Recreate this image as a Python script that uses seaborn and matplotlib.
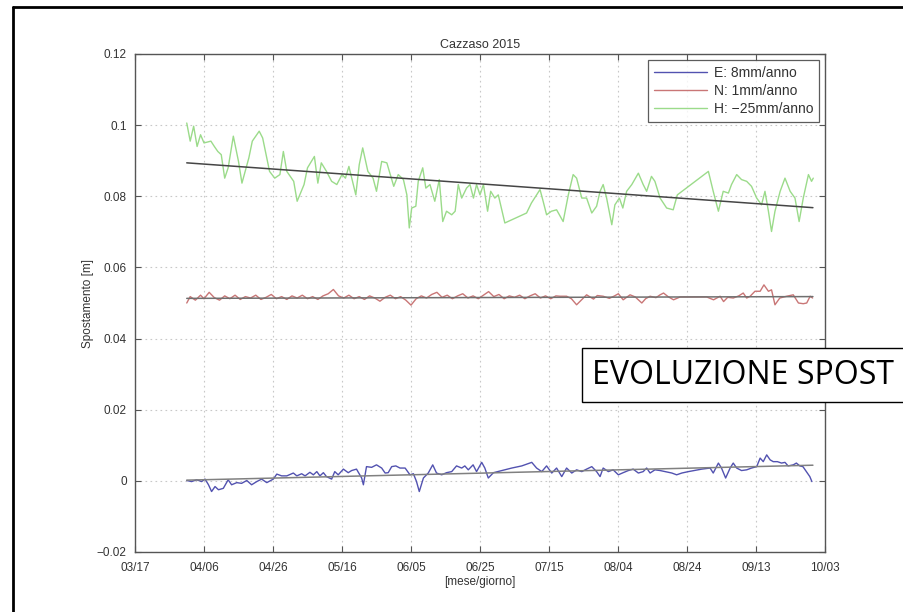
import matplotlib
matplotlib.use("Agg")
import matplotlib.pyplot as plt
from matplotlib.lines import Line2D
import numpy as np
import pandas as pd
import seaborn as sns

# ---------------- data ----------------
base_date = "2015-03-17"
tick_offsets = [0, 20, 40, 60, 80, 100, 120, 140, 160, 180, 200]
tick_labels = ["03/17", "04/06", "04/26", "05/16", "06/05", "06/25",
               "07/15", "08/04", "08/24", "09/13", "10/03"]
y_ticks = [-0.02, 0, 0.02, 0.04, 0.06, 0.08, 0.1, 0.12]
y_tick_labels = ["\u22120.02", "0", "0.02", "0.04", "0.06", "0.08", "0.1", "0.12"]

series_labels = ["E: 8mm/anno", "N: 1mm/anno", "H: \u221225mm/anno"]

E_days = [15, 16.4, 17.9, 19.3, 20.3, 21.3, 22.2, 23.2, 24.2, 25.6,
          27, 28, 29.5, 30.9, 32.4, 33.8, 35.3, 36.7, 38.2, 40.1,
          41.1, 42.5, 44, 45.9, 46.9, 48.3, 49.3, 50.7, 51.7, 52.7,
          53.6, 54.6, 55.5, 57, 57.9, 58.9, 60.4, 61.8, 62.8, 64.2,
          65.7, 66.2, 67.1, 68.6, 70, 71.5, 72.5, 73.4, 74.4, 75.6,
          76.8, 78.3, 79.7, 80.7, 81.6, 82.4, 83.6, 85, 86.3, 87.4,
          88.9, 90.3, 91.8, 93.2, 94.7, 95.6, 96.6, 98, 99, 100.5,
          101.4, 102.4, 103.9,
          106.3, 109.2, 112.1, 115, 116.4, 117.9, 119.3, 120.8, 122.2, 123.7,
          125.1, 126.6, 128, 129.5, 130.9, 132.4, 133.8, 134.8, 135.7, 137.2,
          138.6, 140.1, 141.5, 143, 144.4, 145.9, 147.3, 148.3, 149.3, 150.7,
          152.2, 153.6, 155.6, 157, 158.5, 160.4, 164.3, 166.7, 167.6, 169.1,
          170, 171.2, 172.5, 173.4, 174.4, 175.8, 177.3, 178.7, 180.2, 181.2,
          182.1, 183.1, 184.1, 185, 186.2, 187.4, 188.4, 189.3, 190.8, 191.7,
          192.7, 193.6, 194.6, 195.6, 196.2]
E_vals = [0.0001, -0.0002, 0.0003, -0.0002, 0.0005, -0.0011, -0.0030, -0.0016, -0.0025, -0.0021,
          0.0003, -0.0011, -0.0005, -0.0007, 0.0001, -0.0011, -0.0002, 0.0005, -0.0005, 0.0005,
          0.0019, 0.0014, 0.0014, 0.0022, 0.0014, 0.0020, 0.0014, 0.0024, 0.0017, 0.0026,
          0.0014, 0.0023, 0.0012, 0.0005, 0.0026, 0.0017, 0.0033, 0.0023, 0.0029, 0.0033,
          0.0008, -0.0011, 0.0040, 0.0038, 0.0045, 0.0036, 0.0022, 0.0023, 0.0040, 0.0042,
          0.0036, 0.0036, 0.0017, 0.0020, -0.0002, -0.0030, 0.0008, 0.0022, 0.0045, 0.0022,
          0.0017, 0.0023, 0.0026, 0.0042, 0.0036, 0.0042, 0.0031, 0.0045, 0.0026, 0.0052,
          0.0036, 0.0008, 0.0023,
          0.0029, 0.0036, 0.0042, 0.0052, 0.0036, 0.0026, 0.0042, 0.0022, 0.0036, 0.0012,
          0.0036, 0.0022, 0.0031, 0.0026, 0.0033, 0.0040, 0.0026, 0.0012, 0.0036, 0.0026,
          0.0031, 0.0017, 0.0023, 0.0029, 0.0033, 0.0022, 0.0026, 0.0036, 0.0022, 0.0031,
          0.0029, 0.0026, 0.0022, 0.0017, 0.0022, 0.0026, 0.0033, 0.0036, 0.0022, 0.0050,
          0.0036, 0.0008, 0.0036, 0.0050, 0.0036, 0.0029, 0.0031, 0.0036, 0.0040, 0.0064,
          0.0054, 0.0073, 0.0059, 0.0054, 0.0054, 0.0050, 0.0052, 0.0042, 0.0045, 0.0050,
          0.0042, 0.0040, 0.0026, 0.0012, -0.0002]

N_days = [15, 16, 17.5, 19, 20, 21.5, 23, 24.5, 26, 27.5,
          29, 30.5, 32, 33.5, 35, 36.5, 38, 39.5, 41, 42.5,
          44, 45.5, 47, 48.5, 50, 51.5, 53, 54.5, 56, 57.5,
          59, 60.5, 62, 63.5, 65, 66.5, 68, 69.5, 71, 72.5,
          74, 75.5, 77, 78.5, 80, 81.5, 83, 84.5, 86, 87.5,
          89, 90.5, 92, 93.5, 95, 96.5, 98, 99.5, 101, 102.5,
          104, 105.5, 107, 108.5, 110, 111.5, 113, 114.5, 116, 117.5,
          119, 120.5, 122, 123.2, 125.1, 126.5, 128, 130.9, 132.9, 134,
          135.7, 137.5, 139, 140.1, 141.5, 143.5, 145, 146.9, 148, 149.3,
          151, 152.2, 153.2, 154.5, 156.1, 158, 165.7, 167.7, 169.6, 170.6,
          171.8, 173.4, 175, 176.3, 177.3, 178.3, 179.7, 181.2, 182.3, 183.6,
          184.5, 185.5, 186.9, 188.9, 190.8, 192.3, 193.7, 194.7, 195.7, 196.4]
N_vals = [0.0500, 0.0518, 0.0508, 0.0522, 0.0512, 0.0530, 0.0515, 0.0508, 0.0520, 0.0512,
          0.0522, 0.0510, 0.0518, 0.0514, 0.0522, 0.0510, 0.0516, 0.0524, 0.0512, 0.0518,
          0.0510, 0.0520, 0.0514, 0.0522, 0.0512, 0.0518, 0.0510, 0.0520, 0.0526, 0.0538,
          0.0520, 0.0514, 0.0522, 0.0512, 0.0518, 0.0510, 0.0520, 0.0514, 0.0505, 0.0516,
          0.0522, 0.0512, 0.0518, 0.0508, 0.0494, 0.0512, 0.0520, 0.0514, 0.0524, 0.0530,
          0.0516, 0.0522, 0.0512, 0.0520, 0.0526, 0.0514, 0.0520, 0.0512, 0.0522, 0.0532,
          0.0518, 0.0524, 0.0512, 0.0520, 0.0516, 0.0522, 0.0512, 0.0520, 0.0526, 0.0514,
          0.0520, 0.0512, 0.0520, 0.0519, 0.0519, 0.0512, 0.0495, 0.0523, 0.0511, 0.0521,
          0.0519, 0.0513, 0.0520, 0.0526, 0.0509, 0.0523, 0.0517, 0.0500, 0.0512, 0.0519,
          0.0515, 0.0523, 0.0528, 0.0518, 0.0509, 0.0517, 0.0517, 0.0509, 0.0519, 0.0504,
          0.0516, 0.0514, 0.0520, 0.0528, 0.0514, 0.0519, 0.0533, 0.0533, 0.0551, 0.0533,
          0.0537, 0.0495, 0.0514, 0.0519, 0.0523, 0.0500, 0.0498, 0.0500, 0.0519, 0.0514]

H_days = [15, 16, 17, 18, 19, 20, 22, 23, 24, 25,
          26, 27, 28.5, 30, 31, 33, 34, 36, 37, 38,
          39, 40.5, 42, 43, 44, 46, 47, 49, 50, 52,
          53, 54, 55.5, 57, 58.5, 60, 61, 62, 64, 65,
          66, 67.5, 69, 70, 71.5, 73, 75,
          76.3, 77.8, 78.8, 79.5, 80.2, 81.4, 82.1, 83.4, 84.3, 85.5,
          86.9, 88.2, 89.2, 90.3, 91.8, 92.8, 93.7, 94.7, 96.1, 97.1,
          98.1, 99, 100, 101, 102.2, 103.1, 104.3, 105.3, 107.2, 113.5,
          114.9, 116.4, 117.4, 118.3, 119.3, 120.7, 122.2, 124.1, 125.6, 127,
          128, 129.5, 130.9, 132.4, 133.8,
          134.8, 135.7, 136.7, 138.2, 139.1, 140.4, 141.4, 142.5, 144, 145.9,
          147.3, 148.3, 149.7, 150.7, 152.2, 154.1, 156, 157.2, 166.2, 167.6,
          169.1, 170.5, 172, 172.9, 174.4, 175.8, 177.3, 178.7, 180.2, 181.6,
          182.6, 183.6, 184.5, 185.5, 187, 188.4, 189.9, 191.3, 192.5, 193.7,
          195.2, 196.1, 196.6]
H_vals = [0.1006, 0.0955, 0.0997, 0.0940, 0.0973, 0.0950, 0.0955, 0.0940, 0.0926, 0.0917,
          0.0851, 0.0880, 0.0969, 0.0898, 0.0837, 0.0908, 0.0955, 0.0983, 0.0964, 0.0917,
          0.0870, 0.0851, 0.0861, 0.0926, 0.0870, 0.0842, 0.0786, 0.0833, 0.0880, 0.0912,
          0.0837, 0.0894, 0.0870, 0.0842, 0.0833, 0.0861, 0.0851, 0.0884, 0.0804, 0.0889,
          0.0936, 0.0870, 0.0851, 0.0814, 0.0898, 0.0894, 0.0828,
          0.0861, 0.0847, 0.0804, 0.0711, 0.0767, 0.0772, 0.0842, 0.0880, 0.0823, 0.0833,
          0.0786, 0.0847, 0.0729, 0.0758, 0.0748, 0.0758, 0.0833, 0.0795, 0.0823, 0.0833,
          0.0795, 0.0833, 0.0804, 0.0833, 0.0758, 0.0814, 0.0795, 0.0804, 0.0725, 0.0753,
          0.0781, 0.0804, 0.0819, 0.0786, 0.0748, 0.0758, 0.0762, 0.0729, 0.0804, 0.0861,
          0.0851, 0.0795, 0.0795, 0.0753, 0.0772,
          0.0814, 0.0833, 0.0795, 0.0720, 0.0776, 0.0795, 0.0767, 0.0814, 0.0833, 0.0865,
          0.0833, 0.0814, 0.0856, 0.0842, 0.0795, 0.0767, 0.0762, 0.0804, 0.0870, 0.0814,
          0.0758, 0.0814, 0.0809, 0.0833, 0.0861, 0.0847, 0.0842, 0.0828, 0.0795, 0.0776,
          0.0814, 0.0758, 0.0701, 0.0758, 0.0814, 0.0851, 0.0814, 0.0795, 0.0729, 0.0795,
          0.0861, 0.0842, 0.0851]

trend_days = [15, 196.5]
E_trend = [0.0002, 0.0044]
N_trend = [0.0513, 0.0518]
H_trend = [0.0894, 0.0768]

# ---------------- styling ----------------
col_E = "#5252b0"
col_N = "#c97676"
col_H = "#9bdb8a"

sns.set_theme(style="white")
plt.rcParams["font.family"] = ["Liberation Sans", "DejaVu Sans"]

fig = plt.figure(figsize=(9.04, 6.12), dpi=100)
ax = fig.add_axes([135 / 904, 1 - 552 / 612, (825 - 135) / 904, (552 - 54) / 612])

t0 = pd.Timestamp(base_date)


def to_dates(days):
    return t0 + pd.to_timedelta(np.asarray(days, dtype=float), unit="D")


frames = []
for name, d, v in [("E", E_days, E_vals), ("N", N_days, N_vals), ("H", H_days, H_vals)]:
    frames.append(pd.DataFrame({"date": to_dates(d), "val": v, "serie": name}))
df = pd.concat(frames, ignore_index=True)

palette = {"E": col_E, "N": col_N, "H": col_H}
sns.lineplot(data=df, x="date", y="val", hue="serie", palette=palette,
             estimator=None, sort=False, linewidth=1.0, legend=False, ax=ax)

tr = pd.concat([
    pd.DataFrame({"date": to_dates(trend_days), "val": E_trend, "serie": "E"}),
    pd.DataFrame({"date": to_dates(trend_days), "val": N_trend, "serie": "N"}),
    pd.DataFrame({"date": to_dates(trend_days), "val": H_trend, "serie": "H"}),
], ignore_index=True)
sns.lineplot(data=tr, x="date", y="val", hue="serie",
             palette={"E": "#808080", "N": "#707070", "H": "#454545"},
             estimator=None, sort=False, linewidth=1.1, legend=False, ax=ax)

ax.set_xlim(to_dates([tick_offsets[0]])[0], to_dates([tick_offsets[-1]])[0])
ax.set_ylim(-0.02, 0.12)
ax.set_xticks(to_dates(tick_offsets))
ax.set_xticklabels(tick_labels)
ax.set_yticks(y_ticks)
ax.set_yticklabels(y_tick_labels)

ax.grid(True, linestyle=(0, (1.5, 3)), color="#c8c8c8", linewidth=0.8)
ax.tick_params(axis="both", direction="in", length=4, width=0.8, color="#555555",
               labelsize=8.5, labelcolor="#333333", top=True, right=True,
               bottom=True, left=True)
ax.tick_params(axis="x", pad=7)
ax.tick_params(axis="y", pad=6)
for s in ax.spines.values():
    s.set_color("#555555")
    s.set_linewidth(1.0)

ax.set_title("Cazzaso 2015", fontsize=9, color="#333333", pad=4)
ax.set_xlabel("[mese/giorno]", fontsize=8.5, color="#333333", labelpad=2)
ax.set_ylabel("Spostamento [m]", fontsize=8.5, color="#333333", labelpad=2)

handles = [Line2D([0], [0], color=c, lw=1.0) for c in (col_E, col_N, col_H)]
leg = ax.legend(handles, series_labels, loc="upper right", fontsize=10,
                frameon=True, fancybox=False, edgecolor="#333333",
                borderaxespad=0.45, handlelength=3.8, labelspacing=0.3,
                borderpad=0.4, handletextpad=0.5)
leg.get_frame().set_linewidth(0.9)
for t in leg.get_texts():
    t.set_color("#333333")

# outer slide frame
fig.add_artist(Line2D([13 / 904, 13 / 904], [0, 1 - 7 / 612], transform=fig.transFigure,
                      color="black", lw=2))
fig.add_artist(Line2D([13 / 904, 1], [1 - 7 / 612, 1 - 7 / 612], transform=fig.transFigure,
                      color="black", lw=2))

# overlay text box
fig.add_artist(plt.Rectangle((582 / 904, 1 - 402 / 612), 1, (402 - 348) / 612,
                             transform=fig.transFigure, facecolor="white",
                             edgecolor="black", lw=1.0, clip_on=False))
fig.text(592 / 904, 1 - 376 / 612, "EVOLUZIONE SPOST", fontsize=23,
         family=["Open Sans", "DejaVu Sans"], color="black", va="center", ha="left")

fig.savefig("out.png", dpi=100)
